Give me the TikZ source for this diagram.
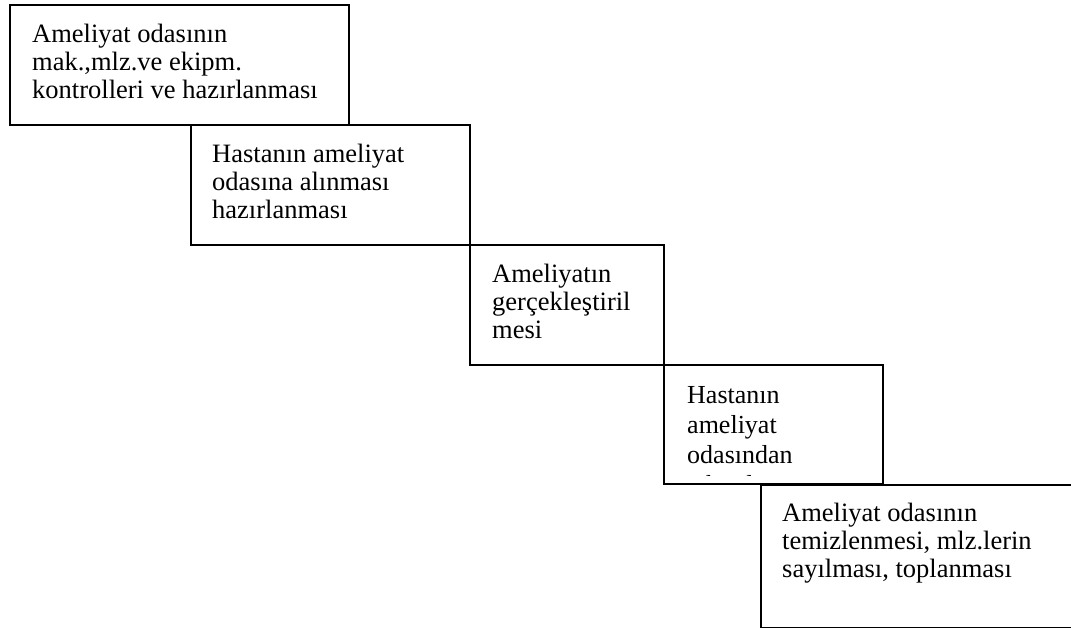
\documentclass[tikz,border=0pt]{standalone}
\usepackage{fontspec}
\setmainfont{Liberation Serif}
\begin{document}
\begin{tikzpicture}[x=1pt,y=-1pt,
  box/.style={draw=black, line width=1.8pt, fill=white, anchor=north west, inner sep=0pt, outer sep=0pt},
  txt/.style={anchor=north west, inner sep=0pt, align=left, font=\fontsize{26.5}{28}\selectfont},
  txtb/.style={txt, font=\fontsize{26}{30}\selectfont}]
\useasboundingbox (0,0) rectangle (1071,628);
\clip (0,0) rectangle (1071,628);
\fill[white] (0,0) rectangle (1071,628);
% box 1
\node[box, minimum width=339pt, minimum height=120pt] (b1) at (10,5) {};
\node[txt] (t1) at (32,24) {Ameliyat odasının\\mak.,mlz.ve ekipm.\\kontrolleri ve hazırlanması};
% box 2
\node[box, minimum width=279pt, minimum height=120pt] (b2) at (191,125) {};
\node[txt] (t2) at (212,144) {Hastanın ameliyat\\odasına alınması\\hazırlanması};
% box 3
\node[box, minimum width=194pt, minimum height=120pt] (b3) at (470,245) {};
\node[txt] (t3) at (492,264) {Ameliyatın\\gerçekleştiril\\mesi};
% box 4
\node[box, minimum width=219pt, minimum height=119pt] (b4) at (664,365) {};
\begin{scope}
\clip (664,365) rectangle (883,475);
\node[txtb] (t4) at (687,386) {Hastanın\\ameliyat\\odasından\\çıkarılması};
\end{scope}
% box 5
\node[box, minimum width=400pt, minimum height=143pt] (b5) at (761,485) {};
\node[txt] (t5) at (782,503) {Ameliyat odasının\\temizlenmesi, mlz.lerin\\sayılması, toplanması};
\end{tikzpicture}
\end{document}
